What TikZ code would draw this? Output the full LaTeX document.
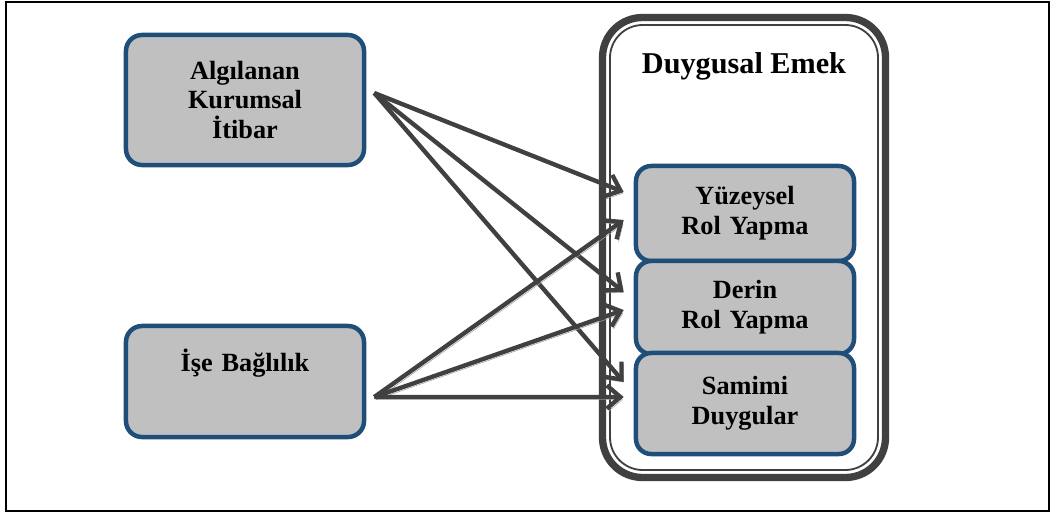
\documentclass[tikz,border=0pt]{standalone}
\usepackage{fontspec}
\setmainfont{Liberation Serif}
\usepackage{xcolor}
\usepackage{tikz}
\usetikzlibrary{arrows.meta, positioning, calc}

\definecolor{boxblue}{HTML}{1F4E79}
\definecolor{boxgray}{HTML}{C0C0C0}
\definecolor{framegray}{HTML}{404040}
\definecolor{shadegray}{HTML}{A0A0A0}

\begin{document}
\begin{tikzpicture}[x=0.025cm, y=-0.025cm,
    concept/.style={rectangle, draw=boxblue, fill=boxgray, line width=3.2pt, rounded corners=0.4cm, text width=5.2cm, align=center, font=\fontsize{18.7}{21.3}\selectfont\bfseries},
    dimension/.style={concept, minimum width=5.45cm, text width=5cm, rounded corners=0.38cm},
    arrow/.style={-{Straight Barb[length=3.4mm, width=5.8mm]}, line width=3.1pt, draw=framegray,
        preaction={draw=shadegray, transform canvas={xshift=1.4pt, yshift=-1.8pt}}}]

    \useasboundingbox (0,0) rectangle (1051,514);
    % outer frame
    \draw[line width=1pt] (6,2) rectangle (1049,511);

    % Independent variables
    \node[concept, minimum width=5.95cm, minimum height=3.25cm] (itibar) at (245,100) {Algılanan\\Kurumsal\\İtibar};
    \node[concept, minimum width=5.95cm, minimum height=2.775cm] (baglilik) at (245,381.5) {İşe Bağlılık\\[9pt]~};

    % Emotional labour container
    \draw[framegray, line width=5.2pt, rounded corners=1cm] (602.5,17.5) rectangle (885.5,477.5);
    \draw[framegray, line width=1.3pt, rounded corners=0.82cm] (610,25) rectangle (878,470);
    \node[font=\fontsize{21.5}{24}\selectfont\bfseries] (emek) at (744,66) {Duygusal Emek};

    % Dimensions
    \node[dimension, minimum height=2.375cm] (yuzeysel) at (745,213.5) {Yüzeysel\\Rol Yapma};
    \node[dimension, minimum height=2.325cm] (derin) at (745,307.5) {Derin\\Rol Yapma};
    \node[dimension, minimum height=2.525cm] (samimi) at (745,403.5) {Samimi\\Duygular};

    % Arrow ends
    \coordinate (src1) at ($(itibar.east)+(8,-7)$);
    \coordinate (src2) at ($(baglilik.east)+(8,15.5)$);
    \coordinate (y1) at ($(yuzeysel.west)+(-10,-21.5)$);
    \coordinate (y2) at ($(yuzeysel.west)+(-10,6.5)$);
    \coordinate (d1) at ($(derin.west)+(-10,-15.5)$);
    \coordinate (d2) at ($(derin.west)+(-10,2.5)$);
    \coordinate (s1) at ($(samimi.west)+(-10,-21.5)$);
    \coordinate (s2) at ($(samimi.west)+(-10,-6.5)$);

    % Relations
    \draw[arrow] (src1) -- (y1);
    \draw[arrow] (src1) -- (d1);
    \draw[arrow] (src1) -- (s1);
    \draw[arrow] (src2) -- (y2);
    \draw[arrow] (src2) -- (d2);
    \draw[arrow] (src2) -- (s2);

\end{tikzpicture}
\end{document}
